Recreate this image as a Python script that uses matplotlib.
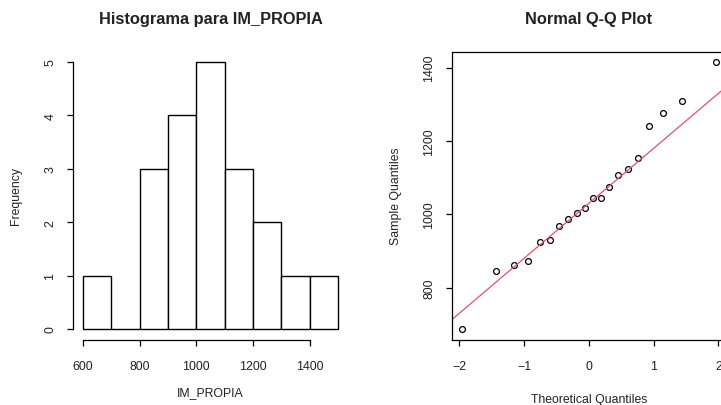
import matplotlib

matplotlib.use("Agg")

import matplotlib.pyplot as plt
import numpy as np
from statistics import NormalDist

plt.rcParams["font.family"] = ["Liberation Sans", "DejaVu Sans"]

# IM_PROPIA values (sorted)
im_propia = [
    686, 844, 861, 872, 923, 930, 968, 988, 1002, 1016,
    1043, 1043, 1074, 1108, 1123, 1153, 1241, 1276, 1310, 1414,
]
# theoretical normal quantiles for n = 20 (qqnorm / ppoints)
theoretical = [
    -1.960, -1.440, -1.150, -0.935, -0.755, -0.598, -0.454, -0.319, -0.189, -0.063,
    0.063, 0.189, 0.319, 0.454, 0.598, 0.755, 0.935, 1.150, 1.440, 1.960,
]
bin_edges = [600, 700, 800, 900, 1000, 1100, 1200, 1300, 1400, 1500]
hist_xticks = [600, 800, 1000, 1200, 1400]
hist_yticks = [0, 1, 2, 3, 4, 5]
qq_xticks = [-2, -1, 0, 1, 2]
qq_yticks = [800, 1000, 1200, 1400]

text_color = "#222222"
line_red = "#DF536B"

sample = np.array(im_propia, dtype=float)
theo = np.array(theoretical)

fig = plt.figure(figsize=(7.21, 4.06), dpi=100)
W, H = 721, 406


def px_axes(left, top, right, bottom):
    return fig.add_axes([left / W, 1 - bottom / H, (right - left) / W, (bottom - top) / H])


def r_ticks(axis):
    axis.tick_params(
        axis="both",
        direction="out",
        length=4.5,
        width=0.9,
        colors="black",
        labelcolor=text_color,
        labelsize=8.9,
    )
    axis.tick_params(axis="x", pad=10.2)
    axis.tick_params(axis="y", pad=7.2)
    for label in axis.get_yticklabels():
        label.set_rotation(90)
        label.set_va("center")


# --- histogram ---
ax1 = px_axes(72.8, 52.3, 348.2, 340.7)
ax1.hist(sample, bins=bin_edges, facecolor="white", edgecolor="black", linewidth=1.0)
ax1.set_xlim(bin_edges[0] - 0.04 * (bin_edges[-1] - bin_edges[0]),
             bin_edges[-1] + 0.04 * (bin_edges[-1] - bin_edges[0]))
ax1.set_ylim(-0.2, 5.2)
ax1.set_xticks(hist_xticks)
ax1.set_yticks(hist_yticks)
for side in ["top", "right"]:
    ax1.spines[side].set_visible(False)
ax1.spines["left"].set_bounds(hist_yticks[0], hist_yticks[-1])
ax1.spines["bottom"].set_bounds(hist_xticks[0], hist_xticks[-1])
for side in ["left", "bottom"]:
    ax1.spines[side].set_linewidth(0.9)
r_ticks(ax1)

fig.text(210.5 / W, 1 - 19.5 / H, "Histograma para IM_PROPIA", ha="center", va="center",
         fontsize=11.8, fontweight="bold", color=text_color)
fig.text(210.5 / W, 1 - 393 / H, "IM_PROPIA", ha="center", va="center",
         fontsize=8.8, color=text_color)
fig.text(16 / W, 1 - 196.5 / H, "Frequency", ha="center", va="center", rotation=90,
         fontsize=8.8, color=text_color)

# --- normal Q-Q plot ---
ax2 = px_axes(451.7, 52.7, 725.9, 341.0)
ax2.plot(theo, sample, linestyle="none", marker="o", markersize=4.2,
         markerfacecolor="none", markeredgecolor="black", markeredgewidth=0.9)

q1, q3 = np.quantile(sample, [0.25, 0.75])
z1, z3 = NormalDist().inv_cdf(0.25), NormalDist().inv_cdf(0.75)
slope = (q3 - q1) / (z3 - z1)
intercept = q1 - slope * z1

x_span = theo.max() - theo.min()
y_span = sample.max() - sample.min()
x_lim = (theo.min() - 0.04 * x_span, theo.max() + 0.04 * x_span)
y_lim = (sample.min() - 0.04 * y_span, sample.max() + 0.04 * y_span)
line_x = np.array([x_lim[0] - 1, x_lim[1] + 1])
ax2.plot(line_x, intercept + slope * line_x, color=line_red, linewidth=0.9)
ax2.set_xlim(*x_lim)
ax2.set_ylim(*y_lim)
ax2.set_xticks(qq_xticks)
ax2.set_yticks(qq_yticks)
for side in ax2.spines.values():
    side.set_linewidth(0.9)
r_ticks(ax2)

fig.text(588.8 / W, 1 - 19.5 / H, "Normal Q-Q Plot", ha="center", va="center",
         fontsize=11.8, fontweight="bold", color=text_color)
fig.text(588.8 / W, 1 - 400 / H, "Theoretical Quantiles", ha="center", va="center",
         fontsize=8.8, color=text_color)
fig.text(396 / W, 1 - 196.5 / H, "Sample Quantiles", ha="center", va="center", rotation=90,
         fontsize=8.8, color=text_color)

fig.savefig("out.png", dpi=100, facecolor="white")
plt.close(fig)
